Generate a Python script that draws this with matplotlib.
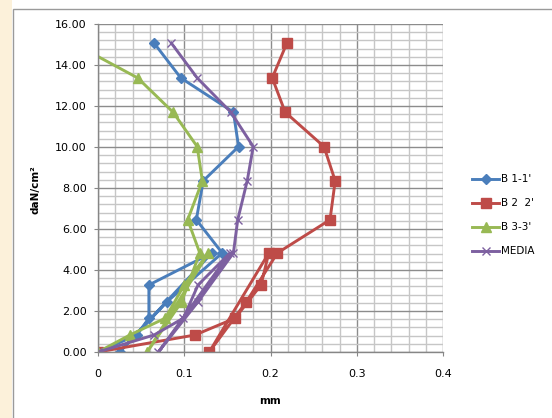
import numpy as np
import matplotlib
matplotlib.use("Agg")
import matplotlib.pyplot as plt
from matplotlib.patches import Rectangle
from matplotlib.ticker import MultipleLocator, FixedLocator

# ---------------------------
# Data (load cycles: load, unload, reload)
# ---------------------------

loads = [0.00, 0.83, 1.65, 3.27, 4.83, 0.00, 2.45, 4.83, 6.45, 8.35, 10.02, 11.70, 13.37, 15.07]

b11 = [0.000, 0.045, 0.059, 0.059, 0.132, 0.025, 0.080, 0.144, 0.114, 0.122, 0.163, 0.157, 0.096, 0.065]
b22 = [0.000, 0.1125, 0.159, 0.189, 0.198, 0.129, 0.172, 0.208, 0.269, 0.275, 0.262, 0.217, 0.202, 0.219]
b33 = [0.000, 0.037, 0.078, 0.100, 0.128, 0.057, 0.097, 0.118, 0.104, 0.121, 0.115, 0.087, 0.046, -0.029]
media = [0.000, 0.065, 0.099, 0.116, 0.153, 0.070, 0.116, 0.157, 0.162, 0.173, 0.180, 0.154, 0.115, 0.085]

labels = ["B 1-1'", "B 2  2'", "B 3-3'", "MEDIA"]

x_ticks = [0, 0.1, 0.2, 0.3, 0.4]
x_tick_labels = ["0", "0.1", "0.2", "0.3", "0.4"]

# ---------------------------
# Figure
# ---------------------------

plt.rcParams['font.family'] = ['DejaVu Sans']

fig = plt.figure(figsize=(5.52, 4.18), dpi=100)

# beige strip on the left and the chart frame
fig.patches.append(Rectangle((0, 0), 12 / 552, 1, transform=fig.transFigure,
                             facecolor='#FCF1DA', edgecolor='none', zorder=0))
fig.patches.append(Rectangle((13 / 552, -0.1), 1.2, 1 - 9 / 418 + 0.1, transform=fig.transFigure,
                             facecolor='none', edgecolor='#9A9A9A', linewidth=1.0, zorder=0))

ax = fig.add_axes([98 / 552, 1 - 352 / 418, 345 / 552, 328 / 418])
ax.set_zorder(2)
ax.patch.set_alpha(0)

ax.plot(b11, loads, color='#4A7EBB', lw=2.1, marker='D', ms=5.5, label=labels[0])
ax.plot(b22, loads, color='#BE4B48', lw=2.1, marker='s', ms=7, label=labels[1])
ax.plot(b33, loads, color='#98B954', lw=2.1, marker='^', ms=7.5, label=labels[2])
ax.plot(media, loads, color='#7D60A0', lw=2.1, marker='x', ms=6, mew=1, label=labels[3])

ax.set_xlim(0, 0.4)
ax.set_ylim(0, 16)

ax.xaxis.set_major_locator(FixedLocator(x_ticks))
ax.set_xticklabels(x_tick_labels)
ax.xaxis.set_minor_locator(MultipleLocator(0.02))
ax.yaxis.set_major_locator(MultipleLocator(2))
ax.yaxis.set_minor_locator(MultipleLocator(0.4))
ax.yaxis.set_major_formatter(matplotlib.ticker.FormatStrFormatter('%.2f'))

ax.grid(which='minor', color='#C6C6C6', lw=1.0)
ax.grid(which='major', color='#8C8C8C', lw=1.0)
ax.set_axisbelow(True)

for side in ['top', 'right']:
    ax.spines[side].set_visible(False)
for side in ['left', 'bottom']:
    ax.spines[side].set_color('#868686')
    ax.spines[side].set_linewidth(1.0)

ax.tick_params(axis='both', which='minor', length=0)
ax.tick_params(axis='y', which='major', length=3, color='#868686', pad=5, labelsize=8)
ax.tick_params(axis='x', which='major', length=3, color='#868686', pad=9, labelsize=8)

fig.text(36 / 552, 1 - 190 / 418, "daN/cm²", rotation=90, ha='center', va='center',
         fontsize=7.5, fontweight='bold')
fig.text(270 / 552, 1 - 401 / 418, "mm", ha='center', va='center',
         fontsize=7.5, fontweight='bold')

fig.legend(loc='upper left', bbox_to_anchor=(468 / 552, 1 - 170 / 418), frameon=False,
           fontsize=7.5, handlelength=2.6, labelspacing=1.35, handletextpad=0.2,
           borderaxespad=0)

plt.savefig("out.png", dpi=100)
